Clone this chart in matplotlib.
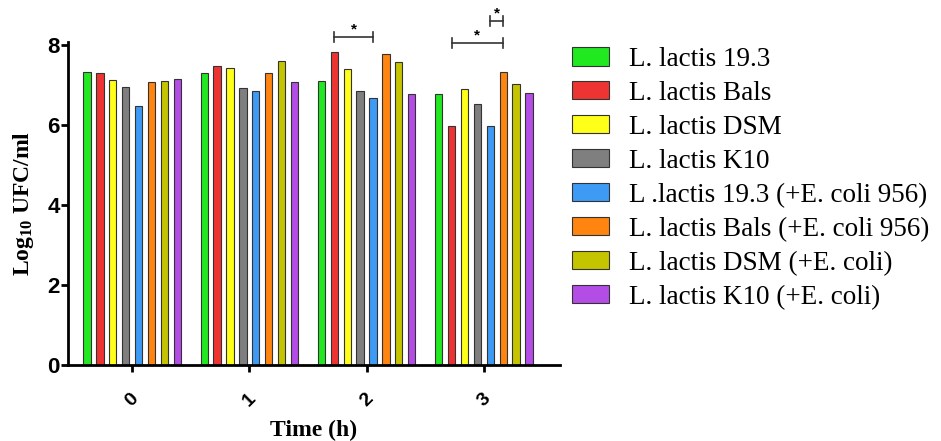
import numpy as np
import matplotlib
matplotlib.use("Agg")
import matplotlib.pyplot as plt
from matplotlib.patches import Patch

times = ["0", "1", "2", "3"]
strains = [
    "L. lactis 19.3",
    "L. lactis Bals",
    "L. lactis DSM",
    "L. lactis K10",
    "L .lactis 19.3 (+E. coli 956)",
    "L. lactis Bals (+E. coli 956)",
    "L. lactis DSM (+E. coli)",
    "L. lactis K10 (+E. coli)",
]
colors = ["#22e822", "#ee3333", "#ffff1a", "#7f7f7f",
          "#3d9bf5", "#ff8410", "#c4c400", "#b44ce6"]

# log10 UFC/ml, one list per strain, values at t = 0, 1, 2, 3 h
green = [7.33, 7.31, 7.10, 6.77]
red = [7.31, 7.48, 7.83, 5.98]
yellow = [7.14, 7.43, 7.41, 6.90]
gray = [6.96, 6.93, 6.85, 6.53]
blue = [6.48, 6.85, 6.67, 5.98]
orange = [7.08, 7.31, 7.77, 7.33]
olive = [7.10, 7.60, 7.58, 7.02]
purple = [7.16, 7.07, 6.77, 6.81]
series = [green, red, yellow, gray, blue, orange, olive, purple]

# significance brackets: (time index, bar from, bar to, height, star)
brackets = [(2, 1, 4, 8.2, "*"), (3, 1, 5, 8.05, "*"), (3, 4, 5, 8.6, "*")]

plt.rcParams["font.family"] = ["Liberation Serif", "DejaVu Serif"]
plt.rcParams["mathtext.default"] = "regular"

fig = plt.figure(figsize=(9.41, 4.41), dpi=100)
ax = fig.add_axes([68 / 941, 76 / 441, 492 / 941, 323 / 441])

step = 0.11
width = 0.062
x = np.arange(len(times))
for i, (vals, c) in enumerate(zip(series, colors)):
    ax.bar(x + (i - 3.5) * step, vals, width=width, color=c,
           edgecolor="#333333", linewidth=0.8)

for t, a, b, h, s in brackets:
    x0 = t + (a - 3.5) * step
    x1 = t + (b - 3.5) * step
    ax.plot([x0, x1], [h, h], color="#333333", lw=1.2, clip_on=False)
    for xx in (x0, x1):
        ax.plot([xx, xx], [h - 0.12, h + 0.12], color="#333333", lw=1.2,
                clip_on=False)
    ax.text((x0 + x1) / 2, h + 0.03, s, ha="center", va="bottom",
            fontsize=11, fontweight="bold", family="Liberation Sans")

ax.set_xlim(-0.547, 3.65)
ax.set_ylim(0, 8.08)
ax.set_yticks([0, 2, 4, 6, 8])
ax.set_xticks(x)
ax.set_xticklabels(times, rotation=45, family="Liberation Sans",
                   fontweight="bold", fontsize=14, ha="center")
for lab in ax.get_yticklabels():
    lab.set_family("Liberation Sans")
    lab.set_fontweight("bold")
    lab.set_fontsize(16)
ax.spines["top"].set_visible(False)
ax.spines["right"].set_visible(False)
ax.spines["left"].set_linewidth(2)
ax.spines["bottom"].set_linewidth(2)
ax.tick_params(axis="both", width=2, length=5, pad=1)
ax.tick_params(axis="x", pad=13)

ax.set_ylabel("Log$_{10}$ UFC/ml", fontsize=17, fontweight="bold", labelpad=8)
ax.set_xlabel("Time (h)", fontsize=17, fontweight="bold", labelpad=7)

handles = [Patch(facecolor=c, edgecolor="#333333", linewidth=0.8) for c in colors]
fig.legend(handles, strains, loc="upper left", bbox_to_anchor=(572 / 941, 1 - 47 / 441),
           frameon=False, fontsize=19.5, handlelength=1.38, handleheight=0.65,
           handletextpad=0.72, labelspacing=0.33, borderaxespad=0, borderpad=0)

fig.savefig("out.png", dpi=100)
